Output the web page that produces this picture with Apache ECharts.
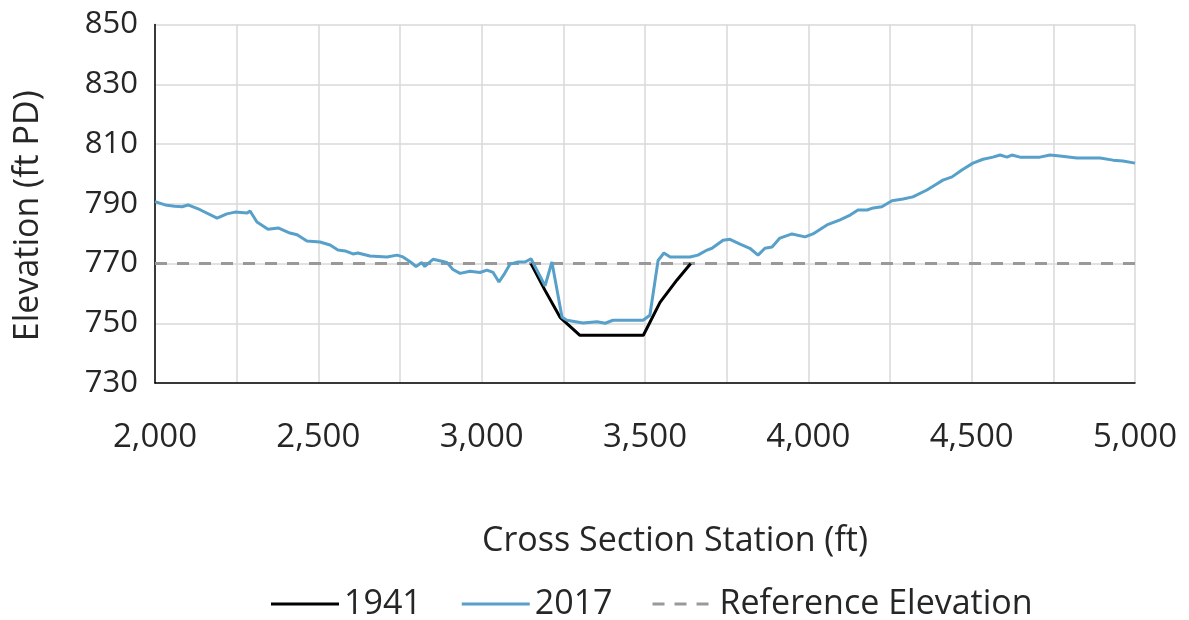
<!DOCTYPE html>
<html>
<head>
<meta charset="utf-8">
<script src="https://cdn.jsdelivr.net/npm/echarts@6/dist/echarts.min.js"></script>
<style>html,body{margin:0;padding:0;background:#fff}#c{width:1189px;height:620px}</style>
</head>
<body>
<div id="c"></div>
<script>
const station2017 = [2000,2031,2060,2083,2101,2138,2190,2220,2245,2282,2291,2312,2346,2377,2413,2435,2465,2505,2536,2560,2582,2606,2621,2658,2710,2741,2759,2781,2799,2817,2826,2851,2882,2894,2912,2934,2964,2995,3016,3035,3053,3071,3087,3111,3133,3151,3194,3215,3246,3261,3310,3353,3378,3402,3454,3494,3515,3540,3558,3577,3638,3662,3690,3705,3739,3760,3791,3821,3846,3867,3889,3913,3950,3990,4014,4057,4097,4128,4152,4180,4199,4225,4256,4290,4320,4363,4388,4412,4440,4470,4504,4535,4565,4587,4608,4623,4648,4709,4740,4770,4822,4893,4933,4963,5000];
const elev2017 = [790.7,789.6,789.2,789.0,789.6,788.0,785.2,786.6,787.2,786.9,787.6,783.9,781.5,781.9,780.2,779.6,777.5,777.2,776.2,774.5,774.2,773.2,773.5,772.5,772.2,772.8,772.2,770.6,769.0,770.3,769.0,771.4,770.7,770.3,768.0,766.7,767.4,767.0,767.8,767.0,763.8,766.8,769.8,770.5,770.5,771.6,762.5,770.5,752.0,751.0,750.1,750.5,750.0,751.0,751.0,751.0,752.7,771.0,773.5,772.2,772.2,772.8,774.5,775.1,777.8,778.1,776.5,775.1,772.8,775.1,775.5,778.5,779.9,778.9,779.9,782.9,784.6,786.2,787.9,787.9,788.6,789.0,791.0,791.6,792.3,794.6,796.3,797.9,799.0,801.3,803.6,804.9,805.6,806.3,805.6,806.3,805.6,805.6,806.3,806.0,805.3,805.3,804.6,804.3,803.6];
const station1941 = [3151,3194,3240,3300,3495,3546,3598,3640];
const elev1941 = [770,761,752,746,746,757,764.5,770];
const refStation = [2000,5000];
const refElev = [770,770];
const xTicks = [2000,2500,3000,3500,4000,4500,5000];
const yTicks = [730,750,770,790,810,830,850];

const pair = (xs, ys) => xs.map((x,i)=>[x, ys[i]]);
const font = "'Open Sans','Noto Sans',sans-serif";
const txt = '#262626';

const chart = echarts.init(document.getElementById('c'), null, {renderer:'canvas'});
chart.setOption({
  animation:false,
  backgroundColor:'#fff',
  grid:{left:155, right:54, top:24.5, bottom:237, containLabel:false},
  xAxis:{
    type:'value', min:xTicks[0], max:xTicks[xTicks.length-1], interval:250,
    name:'Cross Section Station (ft)', nameLocation:'middle', nameGap:141,
    nameTextStyle:{fontFamily:font, fontSize:34, color:txt, padding:[0,0,0,60]},
    axisLine:{show:true, lineStyle:{color:'#000', width:1.5}},
    axisTick:{show:false},
    axisLabel:{fontFamily:font, fontSize:33, color:txt, margin:38,
      formatter:v => xTicks.includes(v) ? v.toLocaleString('en-US') : ''},
    splitLine:{show:true, lineStyle:{color:'#d9d9d9', width:1.5}}
  },
  yAxis:{
    type:'value', min:yTicks[0], max:yTicks[yTicks.length-1], interval:20,
    name:'Elevation (ft PD)', nameLocation:'middle', nameGap:110, nameRotate:90,
    nameTextStyle:{fontFamily:font, fontSize:34, color:txt, padding:[0,24,0,0]},
    axisLine:{show:true, lineStyle:{color:'#000', width:1.5}},
    axisTick:{show:false},
    axisLabel:{fontFamily:font, fontSize:31, color:txt, margin:17},
    splitLine:{show:true, lineStyle:{color:'#d9d9d9', width:1.5}}
  },
  legend:{
    left:266, top:582, itemWidth:68, itemHeight:3, itemGap:40,
    textStyle:{fontFamily:font, fontSize:34, color:txt},
    lineStyle:{width:0},
    itemStyle:{borderWidth:0},
    data:[
      {name:'1941', icon:'rect'},
      {name:'2017', icon:'rect'},
      {name:'Reference Elevation', icon:'path://M0,0h12v3h-12z M22,0h12v3h-12z M44,0h12v3h-12z'}
    ]
  },
  series:[
    {name:'1941', type:'line', data:pair(station1941, elev1941), symbol:'none',
      lineStyle:{color:'#000', width:3}, itemStyle:{color:'#000'}, z:3},
    {name:'2017', type:'line', data:pair(station2017, elev2017), symbol:'none',
      lineStyle:{color:'#57a0c9', width:3}, itemStyle:{color:'#57a0c9'}, z:4},
    {name:'Reference Elevation', type:'line', data:pair(refStation, refElev), symbol:'none',
      lineStyle:{color:'#999', width:3, type:[12,10]}, itemStyle:{color:'#999'}, z:2}
  ]
});
</script>
</body>
</html>
